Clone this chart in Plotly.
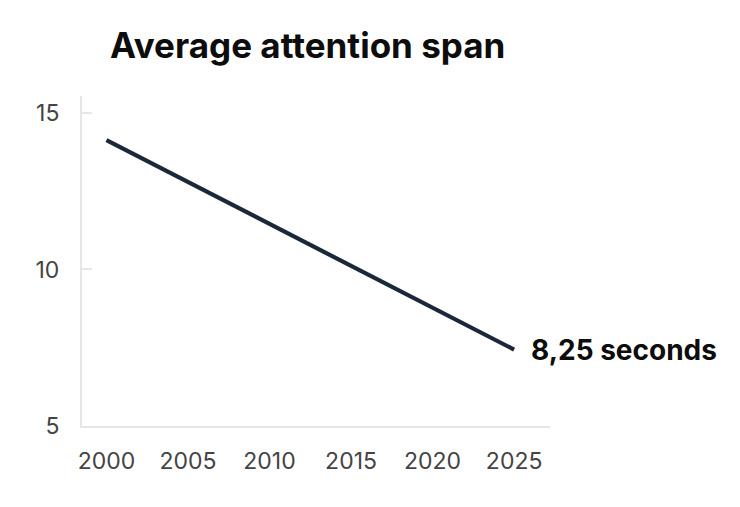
import plotly.graph_objects as go

years = [2000, 2025]
attention_span = [14.13, 7.44]
x_ticks = [2000, 2005, 2010, 2015, 2020, 2025]
y_ticks = [5, 10, 15]
end_label = "8,25 seconds"
title_text = "Average attention span"

fig = go.Figure()
fig.add_trace(go.Scatter(
    x=years, y=attention_span, mode="lines",
    line=dict(color="#1b283a", width=4.2),
    hoverinfo="skip", showlegend=False,
))
fig.add_annotation(
    x=years[-1], y=attention_span[-1], text=end_label,
    showarrow=False, xanchor="left", yanchor="middle", xshift=15,
    font=dict(family="Inter", size=28, color="#0d0d0d", weight="bold"),
)
fig.update_layout(
    width=740, height=507,
    margin=dict(l=82, r=190, t=96, b=81),
    paper_bgcolor="white", plot_bgcolor="white",
    title=dict(text=title_text, x=110/740, xanchor="left", y=1-46/507, yanchor="middle",
               font=dict(family="Inter", size=35, color="#0d0d0d", weight="bold")),
    font=dict(family="Inter", color="#444444"),
)
fig.update_xaxes(
    range=[1998.5, 2027.2], tickvals=x_ticks, showgrid=False, zeroline=False,
    showline=True, linecolor="#e6e6e6", linewidth=2, ticks="",
    tickfont=dict(size=23, color="#444444"), ticklabelstandoff=13,
)
fig.update_yaxes(
    range=[5, 15.54], tickvals=y_ticks, showgrid=False, zeroline=False,
    showline=True, linecolor="#e6e6e6", linewidth=2, ticks="inside", ticklen=10,
    tickcolor="#e6e6e6", tickwidth=2,
    tickfont=dict(size=23, color="#444444"), ticklabelstandoff=16,
)
fig.write_html("out.html", config={"displayModeBar": False})

with open("out.html", encoding="utf-8") as f:
    html = f.read()
html = html.replace("<head>", "<head><style>html,body{margin:0;padding:0;}</style>", 1)
with open("out.html", "w", encoding="utf-8") as f:
    f.write(html)
